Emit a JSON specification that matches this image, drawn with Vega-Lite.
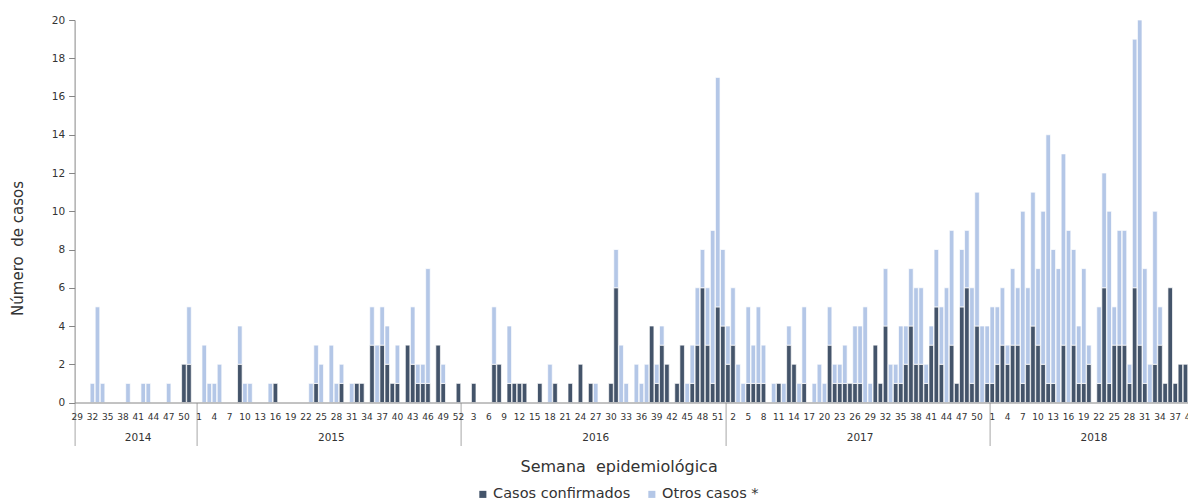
{
"$schema": "https://vega.github.io/schema/vega-lite/v6.json",
"width": 1113.4,
"height": 382.5,
"autosize": {"type": "none"},
"padding": {"left": 74.6, "top": 20, "right": 0, "bottom": 99.5},
"background": "white",
"config": {"view": {"stroke": null}, "font": "DejaVu Sans"},
"data": {"values": [
{"k":"2014-29","c":0,"o":0},{"k":"2014-30","c":0,"o":0},{"k":"2014-31","c":0,"o":0},{"k":"2014-32","c":0,"o":1},{"k":"2014-33","c":0,"o":5},{"k":"2014-34","c":0,"o":1},{"k":"2014-35","c":0,"o":0},{"k":"2014-36","c":0,"o":0},{"k":"2014-37","c":0,"o":0},{"k":"2014-38","c":0,"o":0},{"k":"2014-39","c":0,"o":1},{"k":"2014-40","c":0,"o":0},{"k":"2014-41","c":0,"o":0},{"k":"2014-42","c":0,"o":1},{"k":"2014-43","c":0,"o":1},{"k":"2014-44","c":0,"o":0},{"k":"2014-45","c":0,"o":0},{"k":"2014-46","c":0,"o":0},{"k":"2014-47","c":0,"o":1},{"k":"2014-48","c":0,"o":0},{"k":"2014-49","c":0,"o":0},{"k":"2014-50","c":2,"o":0},{"k":"2014-51","c":2,"o":3},{"k":"2014-52","c":0,"o":0},
{"k":"2015-01","c":0,"o":0},{"k":"2015-02","c":0,"o":3},{"k":"2015-03","c":0,"o":1},{"k":"2015-04","c":0,"o":1},{"k":"2015-05","c":0,"o":2},{"k":"2015-06","c":0,"o":0},{"k":"2015-07","c":0,"o":0},{"k":"2015-08","c":0,"o":0},{"k":"2015-09","c":2,"o":2},{"k":"2015-10","c":0,"o":1},{"k":"2015-11","c":0,"o":1},{"k":"2015-12","c":0,"o":0},{"k":"2015-13","c":0,"o":0},{"k":"2015-14","c":0,"o":0},{"k":"2015-15","c":0,"o":1},{"k":"2015-16","c":1,"o":0},{"k":"2015-17","c":0,"o":0},{"k":"2015-18","c":0,"o":0},{"k":"2015-19","c":0,"o":0},{"k":"2015-20","c":0,"o":0},{"k":"2015-21","c":0,"o":0},{"k":"2015-22","c":0,"o":0},{"k":"2015-23","c":0,"o":1},{"k":"2015-24","c":1,"o":2},{"k":"2015-25","c":0,"o":2},{"k":"2015-26","c":0,"o":0},{"k":"2015-27","c":0,"o":3},{"k":"2015-28","c":0,"o":1},{"k":"2015-29","c":1,"o":1},{"k":"2015-30","c":0,"o":0},{"k":"2015-31","c":0,"o":1},{"k":"2015-32","c":1,"o":0},{"k":"2015-33","c":1,"o":0},{"k":"2015-34","c":0,"o":0},{"k":"2015-35","c":3,"o":2},{"k":"2015-36","c":0,"o":3},{"k":"2015-37","c":3,"o":2},{"k":"2015-38","c":2,"o":2},{"k":"2015-39","c":1,"o":0},{"k":"2015-40","c":1,"o":2},{"k":"2015-41","c":0,"o":0},{"k":"2015-42","c":3,"o":0},{"k":"2015-43","c":2,"o":3},{"k":"2015-44","c":1,"o":1},{"k":"2015-45","c":1,"o":1},{"k":"2015-46","c":1,"o":6},{"k":"2015-47","c":0,"o":0},{"k":"2015-48","c":3,"o":0},{"k":"2015-49","c":1,"o":1},{"k":"2015-50","c":0,"o":0},{"k":"2015-51","c":0,"o":0},{"k":"2015-52","c":1,"o":0},
{"k":"2016-01","c":0,"o":0},{"k":"2016-02","c":0,"o":0},{"k":"2016-03","c":1,"o":0},{"k":"2016-04","c":0,"o":0},{"k":"2016-05","c":0,"o":0},{"k":"2016-06","c":0,"o":0},{"k":"2016-07","c":2,"o":3},{"k":"2016-08","c":2,"o":0},{"k":"2016-09","c":0,"o":0},{"k":"2016-10","c":1,"o":3},{"k":"2016-11","c":1,"o":0},{"k":"2016-12","c":1,"o":0},{"k":"2016-13","c":1,"o":0},{"k":"2016-14","c":0,"o":0},{"k":"2016-15","c":0,"o":0},{"k":"2016-16","c":1,"o":0},{"k":"2016-17","c":0,"o":0},{"k":"2016-18","c":0,"o":2},{"k":"2016-19","c":1,"o":0},{"k":"2016-20","c":0,"o":0},{"k":"2016-21","c":0,"o":0},{"k":"2016-22","c":1,"o":0},{"k":"2016-23","c":0,"o":0},{"k":"2016-24","c":2,"o":0},{"k":"2016-25","c":0,"o":0},{"k":"2016-26","c":1,"o":0},{"k":"2016-27","c":0,"o":1},{"k":"2016-28","c":0,"o":0},{"k":"2016-29","c":0,"o":0},{"k":"2016-30","c":1,"o":0},{"k":"2016-31","c":6,"o":2},{"k":"2016-32","c":0,"o":3},{"k":"2016-33","c":0,"o":1},{"k":"2016-34","c":0,"o":0},{"k":"2016-35","c":0,"o":2},{"k":"2016-36","c":0,"o":1},{"k":"2016-37","c":0,"o":2},{"k":"2016-38","c":4,"o":0},{"k":"2016-39","c":1,"o":1},{"k":"2016-40","c":3,"o":1},{"k":"2016-41","c":2,"o":0},{"k":"2016-42","c":0,"o":0},{"k":"2016-43","c":1,"o":0},{"k":"2016-44","c":3,"o":0},{"k":"2016-45","c":0,"o":1},{"k":"2016-46","c":1,"o":2},{"k":"2016-47","c":3,"o":3},{"k":"2016-48","c":6,"o":2},{"k":"2016-49","c":3,"o":3},{"k":"2016-50","c":1,"o":8},{"k":"2016-51","c":5,"o":12},{"k":"2016-52","c":4,"o":4},
{"k":"2017-01","c":2,"o":2},{"k":"2017-02","c":3,"o":3},{"k":"2017-03","c":0,"o":2},{"k":"2017-04","c":0,"o":1},{"k":"2017-05","c":1,"o":4},{"k":"2017-06","c":1,"o":2},{"k":"2017-07","c":1,"o":4},{"k":"2017-08","c":1,"o":2},{"k":"2017-09","c":0,"o":0},{"k":"2017-10","c":0,"o":1},{"k":"2017-11","c":1,"o":0},{"k":"2017-12","c":0,"o":1},{"k":"2017-13","c":3,"o":1},{"k":"2017-14","c":2,"o":0},{"k":"2017-15","c":0,"o":1},{"k":"2017-16","c":1,"o":4},{"k":"2017-17","c":0,"o":0},{"k":"2017-18","c":0,"o":1},{"k":"2017-19","c":0,"o":2},{"k":"2017-20","c":0,"o":1},{"k":"2017-21","c":3,"o":2},{"k":"2017-22","c":1,"o":1},{"k":"2017-23","c":1,"o":1},{"k":"2017-24","c":1,"o":2},{"k":"2017-25","c":1,"o":0},{"k":"2017-26","c":1,"o":3},{"k":"2017-27","c":1,"o":3},{"k":"2017-28","c":0,"o":5},{"k":"2017-29","c":0,"o":1},{"k":"2017-30","c":3,"o":0},{"k":"2017-31","c":1,"o":0},{"k":"2017-32","c":4,"o":3},{"k":"2017-33","c":0,"o":2},{"k":"2017-34","c":1,"o":1},{"k":"2017-35","c":1,"o":3},{"k":"2017-36","c":2,"o":2},{"k":"2017-37","c":4,"o":3},{"k":"2017-38","c":2,"o":4},{"k":"2017-39","c":2,"o":4},{"k":"2017-40","c":1,"o":1},{"k":"2017-41","c":3,"o":1},{"k":"2017-42","c":5,"o":3},{"k":"2017-43","c":2,"o":3},{"k":"2017-44","c":0,"o":6},{"k":"2017-45","c":3,"o":6},{"k":"2017-46","c":1,"o":0},{"k":"2017-47","c":5,"o":3},{"k":"2017-48","c":6,"o":3},{"k":"2017-49","c":1,"o":5},{"k":"2017-50","c":4,"o":7},{"k":"2017-51","c":0,"o":4},{"k":"2017-52","c":1,"o":3},
{"k":"2018-01","c":1,"o":4},{"k":"2018-02","c":2,"o":3},{"k":"2018-03","c":3,"o":3},{"k":"2018-04","c":2,"o":1},{"k":"2018-05","c":3,"o":4},{"k":"2018-06","c":3,"o":3},{"k":"2018-07","c":1,"o":9},{"k":"2018-08","c":2,"o":4},{"k":"2018-09","c":4,"o":7},{"k":"2018-10","c":3,"o":4},{"k":"2018-11","c":2,"o":8},{"k":"2018-12","c":1,"o":13},{"k":"2018-13","c":1,"o":7},{"k":"2018-14","c":0,"o":7},{"k":"2018-15","c":3,"o":10},{"k":"2018-16","c":0,"o":9},{"k":"2018-17","c":3,"o":5},{"k":"2018-18","c":1,"o":3},{"k":"2018-19","c":1,"o":6},{"k":"2018-20","c":2,"o":1},{"k":"2018-21","c":0,"o":0},{"k":"2018-22","c":1,"o":4},{"k":"2018-23","c":6,"o":6},{"k":"2018-24","c":1,"o":9},{"k":"2018-25","c":3,"o":2},{"k":"2018-26","c":3,"o":6},{"k":"2018-27","c":3,"o":6},{"k":"2018-28","c":1,"o":1},{"k":"2018-29","c":6,"o":13},{"k":"2018-30","c":3,"o":17},{"k":"2018-31","c":1,"o":6},{"k":"2018-32","c":0,"o":2},{"k":"2018-33","c":2,"o":8},{"k":"2018-34","c":3,"o":2},{"k":"2018-35","c":1,"o":0},{"k":"2018-36","c":6,"o":0},{"k":"2018-37","c":1,"o":0},{"k":"2018-38","c":2,"o":0},{"k":"2018-39","c":2,"o":0},{"k":"2018-40","c":0,"o":0}
]},
"layer": [
{
"transform": [{"fold": ["c", "o"], "as": ["s", "v"]}, {"filter": "datum.v > 0"}],
"mark": {"type": "bar", "stroke": "white", "strokeWidth": 0.7},
"encoding": {
"x": {"field": "k", "type": "ordinal", "sort": "ascending",
"scale": {"range": [0, 1118.5], "paddingInner": 0.1, "paddingOuter": 0.05},
"axis": {"title": null, "orient": "bottom", "ticks": false, "tickSize": 0, "labelPadding": 10, "labelFontSize": 9, "labelAngle": 0, "labelOverlap": false, "labelColor": "#333333", "domainColor": "#868686", "zindex": 1,
"labelExpr": "toNumber(split(datum.value,'-')[1]) % 3 == toNumber(substring('21021', toNumber(split(datum.value,'-')[0]) - 2014, toNumber(split(datum.value,'-')[0]) - 2013)) ? '' + toNumber(split(datum.value,'-')[1]) : ''"}},
"y": {"field": "v", "type": "quantitative", "stack": "zero",
"scale": {"domain": [0, 20]},
"axis": {"values": [0, 2, 4, 6, 8, 10, 12, 14, 16, 18, 20], "grid": false, "tickSize": 6, "tickColor": "#868686", "domainColor": "#868686", "labelPadding": 4, "labelFontSize": 10.5, "labelColor": "#333333",
"title": "Número\u00a0 de casos", "titleFontSize": 15, "titleFontWeight": "normal", "titleColor": "#333333", "titleX": -57.6, "titleY": 228, "titleAngle": -90, "titleAlign": "center", "titleBaseline": "middle"}},
"order": {"field": "s", "sort": "ascending"},
"color": {"field": "s", "type": "nominal",
"scale": {"domain": ["c", "o"], "range": ["#44546A", "#B4C7E7"]},
"legend": {"orient": "none", "legendX": 401, "legendY": 467, "direction": "horizontal", "title": null, "symbolType": "square", "symbolSize": 50, "symbolStrokeWidth": 0, "labelFontSize": 14.5, "labelColor": "#333333", "labelOffset": 3, "columnPadding": 14, "padding": 0,
"labelExpr": "datum.value == 'c' ? 'Casos confirmados' : 'Otros casos *'"}}
}
},
{
"mark": {"type": "rule", "opacity": 0},
"encoding": {
"x": {"field": "k", "type": "ordinal", "sort": "ascending",
"axis": {"orient": "bottom", "title": null, "values": ["2014-29", "2015-01", "2016-01", "2017-01", "2018-01"], "bandPosition": 0, "labels": false, "domain": false, "ticks": true, "tickSize": 43, "tickColor": "#A6A6A6", "tickWidth": 1}}
}
},
{
"mark": {"type": "rule", "opacity": 0},
"encoding": {
"x": {"field": "k", "type": "ordinal", "sort": "ascending",
"axis": {"orient": "bottom", "values": ["2014-41", "2015-27", "2016-27", "2017-27", "2018-21"], "bandPosition": 0, "domain": false, "ticks": false, "tickSize": 0, "labelPadding": 29.5, "labelFontSize": 10.5, "labelColor": "#333333", "labelAngle": 0, "labelOverlap": false,
"labelExpr": "split(datum.value,'-')[0]",
"title": "Semana\u00a0 epidemiológica", "titleFontSize": 16, "titleFontWeight": "normal", "titleColor": "#333333", "titleX": 544, "titleY": 63.5, "titleAlign": "center", "titleBaseline": "middle"}}
}
}
],
"resolve": {"axis": {"x": "independent"}}
}
